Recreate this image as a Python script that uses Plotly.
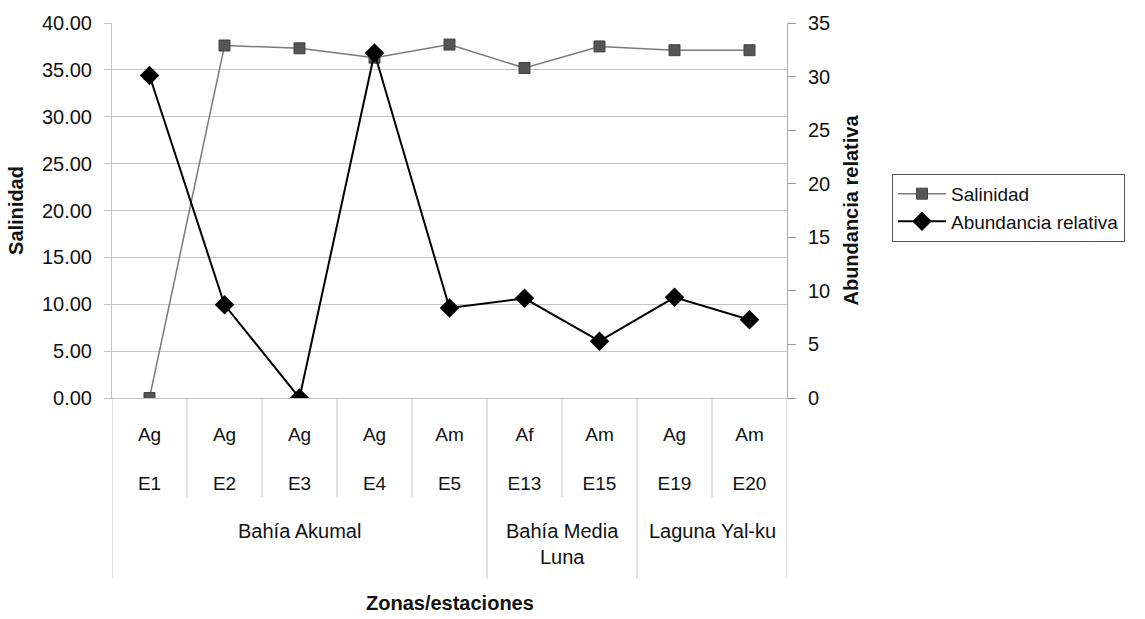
import plotly.graph_objects as go

zones = ["Bahía Akumal"] * 5 + ["Bahía Media<br>Luna"] * 2 + ["Laguna Yal-ku"] * 2
types = ["Ag", "Ag", "Ag", "Ag", "Am", "Af", "Am", "Ag", "Am"]
stations = ["E1", "E2", "E3", "E4", "E5", "E13", "E15", "E19", "E20"]
salinidad = [0.0, 37.6, 37.3, 36.3, 37.7, 35.2, 37.5, 37.1, 37.1]
abundancia = [30.1, 8.7, 0.0, 32.2, 8.4, 9.3, 5.3, 9.4, 7.3]

FONT = "Liberation Sans, Arial, sans-serif"
FS = 20
GRID = "#c4c4c4"

# plot-area geometry (pixels)
W, H = 1145, 619
L, R, T, B = 112, 358, 20, 221
PH = H - T - B


def py(px_below):
    """paper y for a pixel distance below the x axis"""
    return -px_below / PH


fig = go.Figure()
fig.add_trace(go.Scatter(
    x=stations, y=salinidad, name="Salinidad", mode="lines+markers",
    line=dict(color="#7a7a7a", width=1.5),
    marker=dict(symbol="square", size=11, color="#555555", line=dict(color="#444444", width=1)),
))
fig.add_trace(go.Scatter(
    x=stations, y=abundancia, name="Abundancia relativa", mode="lines+markers",
    line=dict(color="#000000", width=2),
    marker=dict(symbol="diamond", size=15, color="#000000"),
    yaxis="y2",
))

# category table below x axis
n = len(stations)
shapes = []
for i in range(n + 1):
    xb = i - 0.5
    is_zone_edge = i == 0 or i == n or zones[i] != zones[i - 1]
    shapes.append(dict(
        type="line", xref="x", yref="paper", x0=xb, x1=xb,
        y0=0, y1=py(182 if is_zone_edge else 100),
        line=dict(color=GRID, width=1),
    ))

annotations = []
start = 0
for i in range(1, n + 1):
    if i == n or zones[i] != zones[start]:
        annotations.append(dict(
            x=(start + i - 1) / 2, y=py(121), xref="x", yref="paper",
            text=zones[start], showarrow=False, yanchor="top", xanchor="center",
            font=dict(family=FONT, size=FS, color="#111111"),
        ))
        start = i

annotations.append(dict(
    x=0.5, y=py(207), xref="paper", yref="paper",
    text="<b>Zonas/estaciones</b>", showarrow=False, yanchor="middle", xanchor="center",
    font=dict(family=FONT, size=FS, color="#111111"),
))

fig.update_layout(
    width=W, height=H,
    margin=dict(l=L, r=R, t=T, b=B),
    paper_bgcolor="white", plot_bgcolor="white",
    font=dict(family=FONT, size=FS, color="#111111"),
    showlegend=True,
    legend=dict(
        x=(892 - L) / (W - L - R), y=(398 - 172) / PH, xanchor="left", yanchor="top",
        bordercolor="#555555", borderwidth=1, bgcolor="white",
        font=dict(family=FONT, size=19),
        tracegroupgap=0, itemwidth=48,
    ),
    shapes=shapes,
    annotations=annotations,
    xaxis=dict(
        type="category",
        tickvals=stations,
        ticktext=[f"{t}<br><br>{s}" for t, s in zip(types, stations)],
        showgrid=False,
        showline=True, linecolor=GRID, linewidth=1,
        ticks="outside", ticklen=19, tickcolor="rgba(0,0,0,0)",
        tickfont=dict(family=FONT, size=19),
        range=[-0.5, n - 0.5],
    ),
    yaxis=dict(
        range=[0, 40], dtick=5, tickformat=".2f",
        showgrid=True, gridcolor=GRID, gridwidth=1,
        showline=True, linecolor=GRID, linewidth=1,
        ticks="outside", ticklen=7, tickcolor=GRID,
        ticklabelstandoff=8,
        zeroline=False,
        tickfont=dict(family=FONT, size=FS),
        title=dict(text="<b>Salinidad</b>", font=dict(family=FONT, size=FS), standoff=12),
    ),
    yaxis2=dict(
        range=[0, 35], dtick=5, overlaying="y", side="right",
        showgrid=False, zeroline=False,
        showline=True, linecolor="#aaaaaa", linewidth=1,
        ticks="outside", ticklen=8, tickcolor="#999999",
        ticklabelstandoff=8,
        tickfont=dict(family=FONT, size=FS),
        title=dict(text="<b>Abundancia relativa</b>", font=dict(family=FONT, size=FS), standoff=14),
    ),
)

fig.write_html("out.html")
